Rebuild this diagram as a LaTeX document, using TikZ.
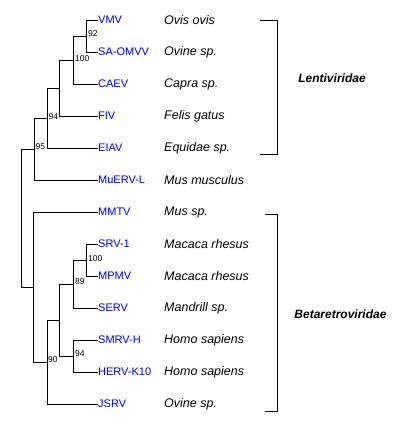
\documentclass[tikz,border=0pt]{standalone}
\usepackage{fontspec}
\setmainfont{Liberation Sans}
\definecolor{leafblue}{RGB}{0,0,255}
\begin{document}
\begin{tikzpicture}[x=1pt,y=-1pt,
  branch/.style={draw=black,line width=1pt},
  leaf/.style={anchor=west,inner sep=0pt,text=leafblue,font=\fontsize{11}{12}\selectfont},
  host/.style={anchor=west,inner sep=0pt,font=\fontsize{12.5}{14}\selectfont\itshape},
  boot/.style={anchor=west,inner sep=0pt,font=\fontsize{8.5}{9}\selectfont},
  family/.style={inner sep=0pt,font=\fontsize{12}{13}\selectfont\bfseries\itshape},
  bracket/.style={draw=black,line width=1pt}]
\useasboundingbox (0,0) rectangle (407,432);
% leaves
\node[leaf] (vmv) at (98,20) {VMV};
\node[leaf] (saomvv) at (98,52) {SA-OMVV};
\node[leaf] (caev) at (98,84) {CAEV};
\node[leaf] (fiv) at (98,116) {FIV};
\node[leaf] (eiav) at (98,148) {EIAV};
\node[leaf] (muerv) at (98,180) {MuERV-L};
\node[leaf] (mmtv) at (98,212) {MMTV};
\node[leaf] (srv) at (98,244) {SRV-1};
\node[leaf] (mpmv) at (98,276) {MPMV};
\node[leaf] (serv) at (98,308) {SERV};
\node[leaf] (smrv) at (98,340) {SMRV-H};
\node[leaf] (herv) at (98,372) {HERV-K10};
\node[leaf] (jsrv) at (98,404) {JSRV};
% hosts
\node[host] (h1) at (164,20) {Ovis ovis};
\node[host] (h2) at (164,52) {Ovine sp.};
\node[host] (h3) at (164,84) {Capra sp.};
\node[host] (h4) at (164,116) {Felis gatus};
\node[host] (h5) at (164,148) {Equidae sp.};
\node[host] (h6) at (164,180) {Mus musculus};
\node[host] (h7) at (164,212) {Mus sp.};
\node[host] (h8) at (164,244) {Macaca rhesus};
\node[host] (h9) at (164,276) {Macaca rhesus};
\node[host] (h10) at (164,308) {Mandrill sp.};
\node[host] (h11) at (164,340) {Homo sapiens};
\node[host] (h12) at (164,372) {Homo sapiens};
\node[host] (h13) at (164,404) {Ovine sp.};
% internal nodes
\coordinate (a1) at (86,36);
\coordinate (a2) at (73,60);
\coordinate (a3) at (59,88);
\coordinate (a4) at (47,118);
\coordinate (a5) at (34,149);
\coordinate (b1) at (86,260);
\coordinate (b2) at (73,284);
\coordinate (b3) at (73,356);
\coordinate (b4) at (59,320);
\coordinate (b5) at (47,362);
\coordinate (b6) at (33,287);
\coordinate (root) at (21,218);
% branches
\draw[branch] (a1) |- (vmv.west);
\draw[branch] (a1) |- (saomvv.west);
\draw[branch] (a2) |- (a1);
\draw[branch] (a2) |- (caev.west);
\draw[branch] (a3) |- (a2);
\draw[branch] (a3) |- (fiv.west);
\draw[branch] (a4) |- (a3);
\draw[branch] (a4) |- (eiav.west);
\draw[branch] (a5) |- (a4);
\draw[branch] (a5) |- (muerv.west);
\draw[branch] (b1) |- (srv.west);
\draw[branch] (b1) |- (mpmv.west);
\draw[branch] (b2) |- (b1);
\draw[branch] (b2) |- (serv.west);
\draw[branch] (b3) |- (smrv.west);
\draw[branch] (b3) |- (herv.west);
\draw[branch] (b4) |- (b2);
\draw[branch] (b4) |- (b3);
\draw[branch] (b5) |- (b4);
\draw[branch] (b5) |- (jsrv.west);
\draw[branch] (b6) |- (mmtv.west);
\draw[branch] (b6) |- (b5);
\draw[branch] (root) |- (a5);
\draw[branch] (root) |- (b6);
% bootstrap values
\node[boot] (s1) at (88,34) {92};
\node[boot] (s2) at (75,59) {100};
\node[boot] (s3) at (48.5,116.5) {94};
\node[boot] (s4) at (35.5,147) {95};
\node[boot] (s5) at (88,259) {100};
\node[boot] (s6) at (75,282) {89};
\node[boot] (s7) at (75,354) {94};
\node[boot] (s8) at (48,360) {90};
% brackets
\coordinate (l1) at (260,20);
\coordinate (l2) at (277,20);
\coordinate (l3) at (277,154);
\coordinate (l4) at (260,154);
\draw[bracket] (l1) -- (l2) -- (l3) -- (l4);
\coordinate (m1) at (265,214);
\coordinate (m2) at (277,214);
\coordinate (m3) at (277,411);
\coordinate (m4) at (265,411);
\draw[bracket] (m1) -- (m2) -- (m3) -- (m4);
\node[family] (lenti) at (332,78) {Lentiviridae};
\node[family] (beta) at (340.5,314) {Betaretroviridae};
\end{tikzpicture}
\end{document}
